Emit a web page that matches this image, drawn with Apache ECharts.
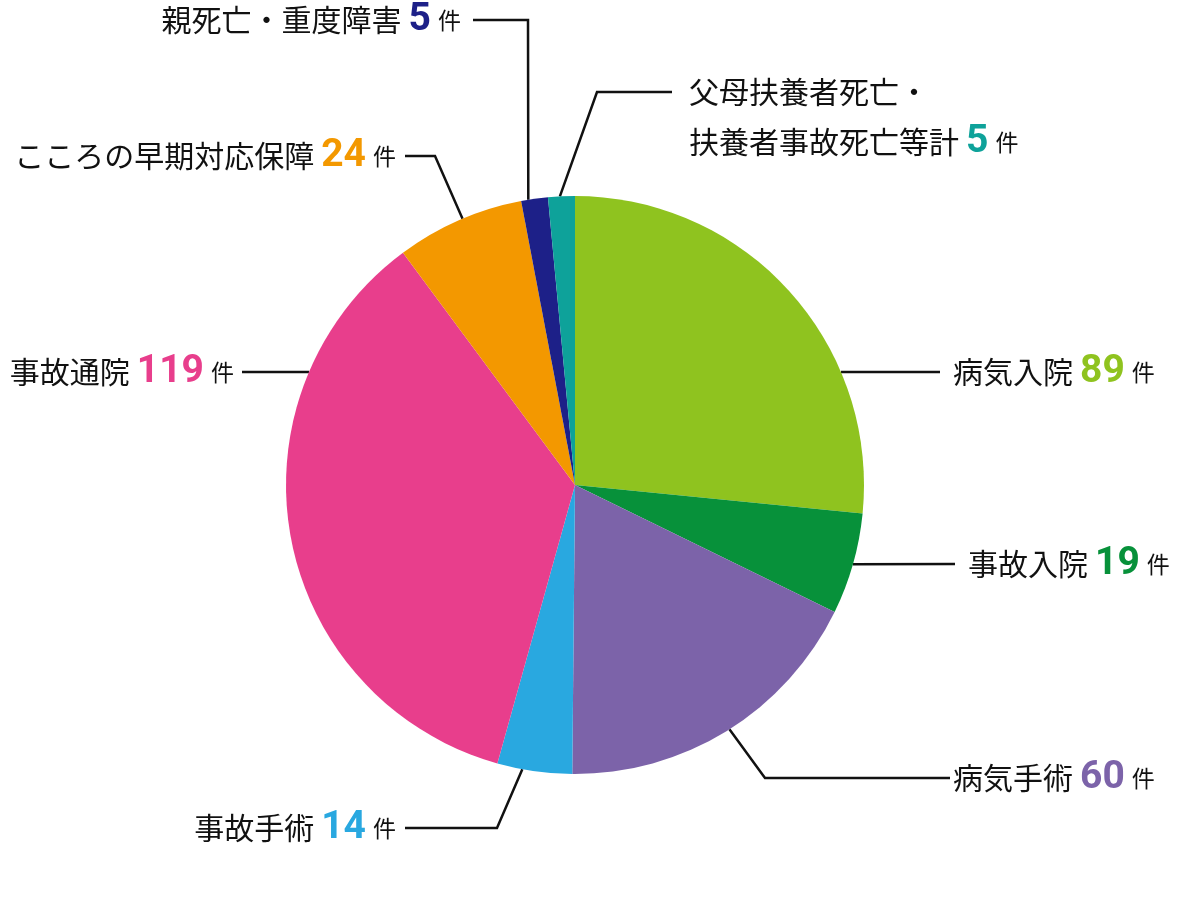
<!DOCTYPE html>
<html>
<head>
<meta charset="utf-8">
<script src="https://cdn.jsdelivr.net/npm/echarts@6/dist/echarts.min.js"></script>
<style>
  html, body { margin: 0; padding: 0; background: #fff; }
  #main { width: 1180px; height: 912px; }
</style>
</head>
<body>
<div id="main"></div>
<script>
// 件数（時計回り、12時の位置から）
const categories = [
  "病気入院",
  "事故入院",
  "病気手術",
  "事故手術",
  "事故通院",
  "こころの早期対応保障",
  "親死亡・重度障害",
  "父母扶養者死亡・\n扶養者事故死亡等計",
];
const counts = [89, 19, 60, 14, 119, 24, 5, 5];
const colors = ["#8fc31f", "#07913a", "#7c63a9", "#29a8e0", "#e83e8c", "#f39800", "#1d2088", "#0ea29a"];
const unit = "件";

// 円の位置と大きさ
const CX = 575, CY = 485, R = 289;

// 引き出し線：円周上の角度（12時から時計回り）、折れ点、終点、ラベル位置
const leaders = [
  { angle: 67, pts: [[940, 372]], label: [953, 372], align: "left" },
  { angle: 105.9, pts: [[955, 564]], label: [968, 564], align: "left" },
  { angle: 147.7, pts: [[765, 778], [950, 778]], label: [953, 778], align: "left" },
  { angle: 190.5, pts: [[497, 828], [405, 828]], label: [396, 828], align: "right" },
  { angle: 293, pts: [[242, 372]], label: [234, 372], align: "right" },
  { angle: 337.1, pts: [[435, 156], [405, 156]], label: [396, 156], align: "right" },
  { angle: 350.7, pts: [[528, 20], [473, 20]], label: [461, 20], align: "right" },
  { angle: 357, pts: [[597, 92], [672, 92]], label: [689, 67], align: "left", top: true },
];

const rich = {
  n: { fontSize: 30, color: "#111", fontFamily: "Noto Sans CJK JP", lineHeight: 50 },
  u: { fontSize: 23, color: "#111", fontFamily: "Noto Sans CJK JP", lineHeight: 50 },
};
colors.forEach((c, i) => {
  rich["v" + i] = {
    fontSize: 39,
    fontWeight: "bold",
    fontFamily: "Roboto",
    color: c,
    padding: [0, 7, 0, 7],
    lineHeight: 50,
  };
});

const chart = echarts.init(document.getElementById("main"));

chart.setOption({
  animation: false,
  backgroundColor: "#fff",
  series: [
    {
      type: "pie",
      center: [CX, CY],
      radius: R,
      startAngle: 90,
      clockwise: true,
      avoidLabelOverlap: false,
      silent: true,
      data: categories.map((name, i) => ({
        name: name,
        value: counts[i],
        itemStyle: { color: colors[i] },
      })),
      label: {
        show: true,
        position: "outside",
        rich: rich,
        formatter: (p) => {
          const lines = p.name.split("\n");
          return lines
            .map((l, k) =>
              "{n|" + l + "}" +
              (k === lines.length - 1 ? "{v" + p.dataIndex + "|" + p.value + "}{u|" + unit + "}" : "")
            )
            .join("\n");
        },
      },
      labelLine: {
        show: true,
        lineStyle: { color: "#111", width: 2.5 },
      },
      labelLayout: (params) => {
        const l = leaders[params.dataIndex];
        const a = (l.angle * Math.PI) / 180;
        const start = [CX + R * Math.sin(a), CY - R * Math.cos(a)];
        return {
          x: l.label[0],
          y: l.label[1],
          align: l.align,
          verticalAlign: l.top ? "top" : "middle",
          labelLinePoints: [start].concat(l.pts),
        };
      },
    },
  ],
});
</script>
</body>
</html>
